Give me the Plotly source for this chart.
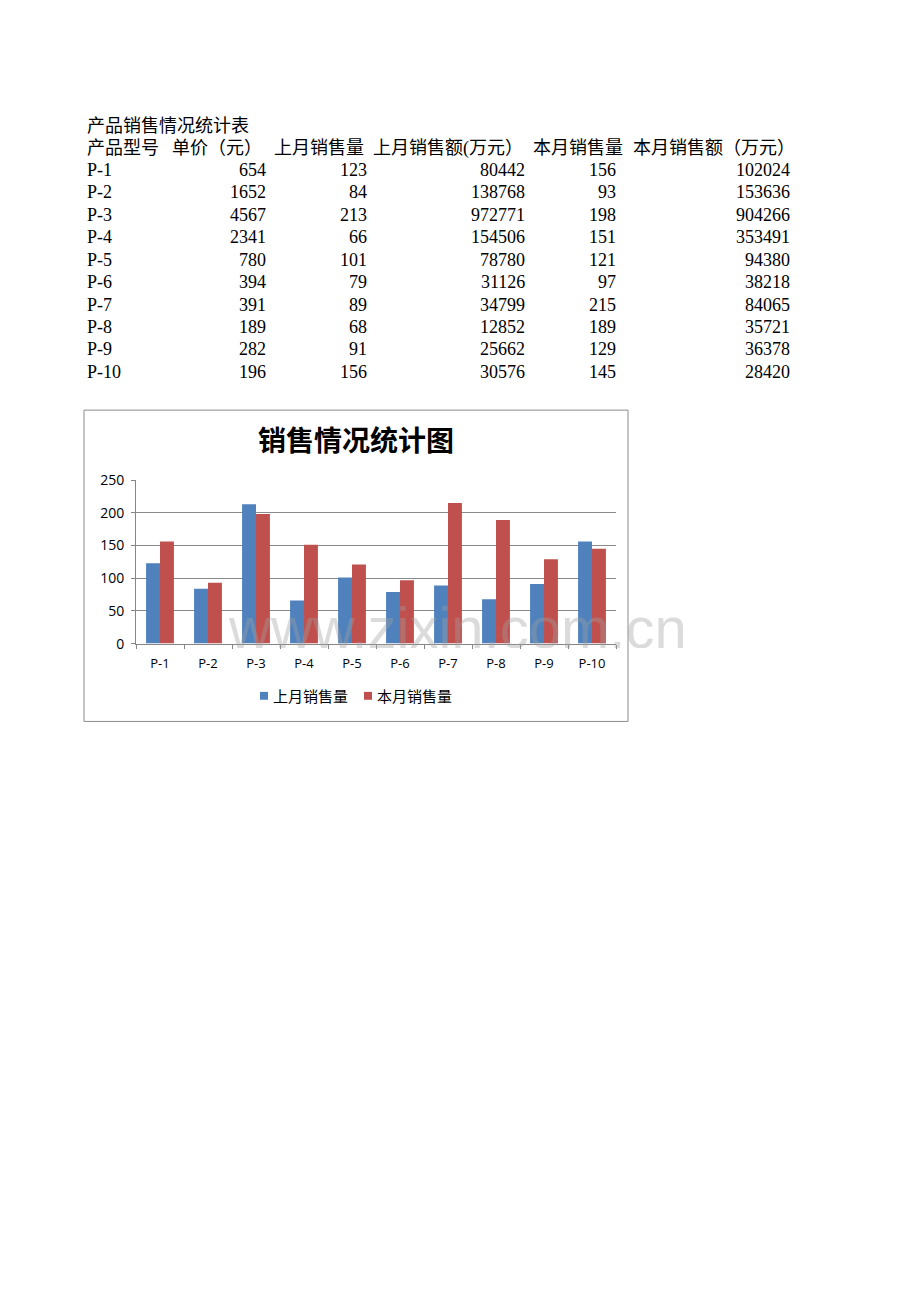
import plotly.graph_objects as go

# 数据
models = ["P-1", "P-2", "P-3", "P-4", "P-5", "P-6", "P-7", "P-8", "P-9", "P-10"]
unit_price = [654, 1652, 4567, 2341, 780, 394, 391, 189, 282, 196]
last_qty = [123, 84, 213, 66, 101, 79, 89, 68, 91, 156]
last_amount = [80442, 138768, 972771, 154506, 78780, 31126, 34799, 12852, 25662, 30576]
this_qty = [156, 93, 198, 151, 121, 97, 215, 189, 129, 145]
this_amount = [102024, 153636, 904266, 353491, 94380, 38218, 84065, 35721, 36378, 28420]

table_title = "产品销售情况统计表"
headers = ["产品型号", "单价（元）", "上月销售量", "上月销售额(万元）", "本月销售量", "本月销售额（万元）"]
chart_title = "销售情况统计图"
series_names = ["上月销售量", "本月销售量"]
colors = ["#4F81BD", "#C0504D"]
y_ticks = [0, 50, 100, 150, 200, 250]

# 页面默认有 8px 边距
OFF = 8
W, H = 920 - 2 * OFF, 1301 - 2 * OFF


def px(x):
    return (x - OFF) / W


def py(y):
    return 1 - (y - OFF) / H


fig = go.Figure()

fig.add_trace(go.Bar(
    x=models, y=last_qty, name=series_names[0],
    marker=dict(color=colors[0], line=dict(width=0)),
))
fig.add_trace(go.Bar(
    x=models, y=this_qty, name=series_names[1],
    marker=dict(color=colors[1], line=dict(width=0)),
))

table_font = dict(family="Liberation Serif, Noto Sans CJK SC", size=18, color="#000000")
ann = []
shapes = []

# 表格
ann.append(dict(x=px(85), y=py(118), text=table_title, showarrow=False,
                xref="paper", yref="paper", xanchor="left", yanchor="middle", font=table_font))
header_x = [85, 170, 272, 371, 531, 631]
for hx, h in zip(header_x, headers):
    ann.append(dict(x=px(hx), y=py(140), text=h, showarrow=False,
                    xref="paper", yref="paper", xanchor="left", yanchor="middle", font=table_font))

col_right = [268, 369, 527, 618, 792]
columns = [unit_price, last_qty, last_amount, this_qty, this_amount]
for i, m in enumerate(models):
    ry = 162 + i * 22.8
    ann.append(dict(x=px(85), y=py(ry), text=m, showarrow=False,
                    xref="paper", yref="paper", xanchor="left", yanchor="middle", font=table_font))
    for cx, col in zip(col_right, columns):
        ann.append(dict(x=px(cx), y=py(ry), text=str(col[i]), showarrow=False,
                        xref="paper", yref="paper", xanchor="right", yanchor="middle", font=table_font))

# 图表标题
ann.append(dict(x=px(356), y=py(435), text="<b>" + chart_title + "</b>", showarrow=False,
                xref="paper", yref="paper", xanchor="center", yanchor="middle",
                font=dict(family="Noto Sans CJK SC", size=28, color="#000000")))

# 图例
legend_x = [260, 364]
for lx, name, c in zip(legend_x, series_names, colors):
    shapes.append(dict(type="rect", xref="paper", yref="paper",
                       x0=px(lx), x1=px(lx + 8), y0=py(700), y1=py(692),
                       fillcolor=c, line=dict(width=0)))
    ann.append(dict(x=px(lx + 11), y=py(696), text=name, showarrow=False,
                    xref="paper", yref="paper", xanchor="left", yanchor="middle",
                    font=dict(family="Noto Sans CJK SC", size=15, color="#000000")))

# 水印
ann.append(dict(x=px(457), y=py(626), text="www.zixin.com.cn", showarrow=False,
                xref="paper", yref="paper", xanchor="center", yanchor="middle",
                height=42, valign="middle",
                font=dict(family="Liberation Sans", size=58, color="rgba(160,160,160,0.38)")))

# 图表外框
shapes.append(dict(type="rect", xref="paper", yref="paper",
                   x0=px(84), x1=px(628), y0=py(722), y1=py(406),
                   line=dict(color="#8C8C8C", width=1)))

fig.update_layout(
    width=W, height=H,
    margin=dict(l=0, r=0, t=0, b=0),
    paper_bgcolor="white", plot_bgcolor="white",
    barmode="group", bargap=0.42, bargroupgap=0,
    annotations=ann,
    shapes=shapes,
    showlegend=False,
    xaxis=dict(domain=[px(136), px(616)], showgrid=False, showline=True,
               linecolor="#868686", linewidth=1, ticks="outside", tickson="boundaries",
               ticklen=4, tickcolor="#868686", ticklabelstandoff=8,
               tickfont=dict(family="Open Sans", size=13, color="#000000")),
    yaxis=dict(domain=[py(643), py(477)], range=[0, 250], tickvals=y_ticks,
               showgrid=True, gridcolor="#8A8A8A", gridwidth=1, showline=True,
               linecolor="#868686", ticks="outside", ticklen=4, tickcolor="#868686",
               zeroline=False, ticklabelstandoff=4,
               tickfont=dict(family="Open Sans", size=14, color="#000000")),
)

fig.write_html("out.html")
